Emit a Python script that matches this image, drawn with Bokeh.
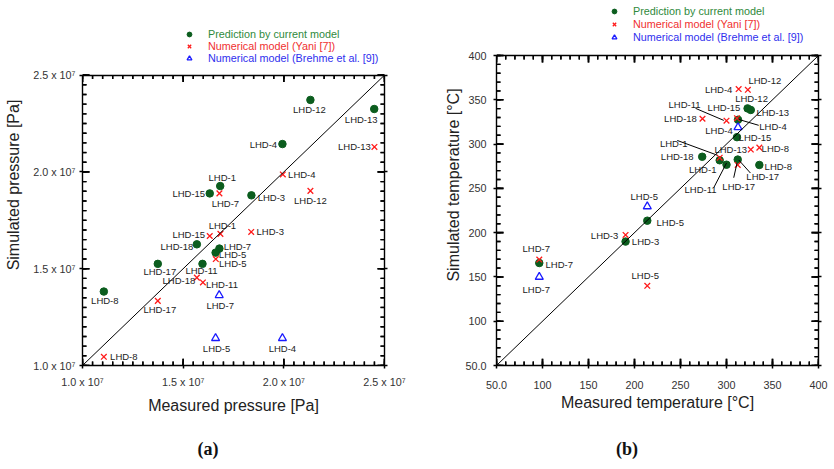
import numpy as np
from bokeh.plotting import figure
from bokeh.models import (ColumnDataSource, Range1d, FixedTicker, LinearAxis, Legend,
                          LegendItem, Slope, Div)
from bokeh.core.properties import value
from bokeh.layouts import row, column
from bokeh.embed import file_html
from bokeh.resources import INLINE

# ------------------------------------------------------------------ data (a)
pa_pred_names = ["LHD-12", "LHD-13", "LHD-4", "LHD-1", "LHD-15", "LHD-3",
                 "LHD-18", "LHD-7", "LHD-5", "LHD-17", "LHD-11", "LHD-8"]
pa_pred_meas = [2.132e7, 2.449e7, 1.993e7, 1.684e7, 1.632e7, 1.839e7,
                1.568e7, 1.680e7, 1.661e7, 1.374e7, 1.596e7, 1.106e7]
pa_pred_sim = [2.372e7, 2.325e7, 2.144e7, 1.927e7, 1.889e7, 1.879e7,
               1.626e7, 1.604e7, 1.583e7, 1.525e7, 1.525e7, 1.382e7]

pa_yani_names = ["LHD-13", "LHD-4", "LHD-7", "LHD-12", "LHD-1", "LHD-15",
                 "LHD-3", "LHD-5", "LHD-18", "LHD-11", "LHD-17", "LHD-8"]
pa_yani_meas = [2.450e7, 1.995e7, 1.680e7, 2.132e7, 1.685e7, 1.632e7,
                1.838e7, 1.662e7, 1.568e7, 1.598e7, 1.374e7, 1.106e7]
pa_yani_sim = [2.129e7, 1.987e7, 1.889e7, 1.902e7, 1.680e7, 1.669e7,
               1.690e7, 1.550e7, 1.454e7, 1.429e7, 1.334e7, 1.045e7]

pa_breh_names = ["LHD-7", "LHD-5", "LHD-4"]
pa_breh_meas = [1.679e7, 1.661e7, 1.993e7]
pa_breh_sim = [1.363e7, 1.141e7, 1.141e7]

pa_ticks = [1.0e7, 1.5e7, 2.0e7, 2.5e7]
pa_tick_labels = ["1.0 x 10\u2077", "1.5 x 10\u2077", "2.0 x 10\u2077", "2.5 x 10\u2077"]
pa_minor_step = 0.05e7

# ------------------------------------------------------------------ data (b)
tb_pred_names = ["LHD-12", "LHD-13", "LHD-4", "LHD-15", "LHD-18", "LHD-1",
                 "LHD-11", "LHD-17", "LHD-8", "LHD-5", "LHD-3", "LHD-7"]
tb_pred_meas = [322.9, 326.4, 312.5, 311.4, 273.6, 292.6,
                300.0, 312.2, 335.7, 213.9, 190.3, 96.5]
tb_pred_sim = [340.3, 338.5, 327.5, 307.8, 285.7, 281.7,
               276.7, 282.5, 276.4, 213.5, 189.9, 165.7]

tb_yani_names = ["LHD-4", "LHD-12", "LHD-18", "LHD-11", "LHD-15", "LHD-13",
                 "LHD-8", "LHD-1", "LHD-17", "LHD-3", "LHD-7", "LHD-5"]
tb_yani_meas = [313.2, 323.2, 273.9, 300.0, 311.4, 326.4,
                335.7, 292.6, 312.2, 190.3, 96.5, 213.9]
tb_yani_sim = [362.1, 361.3, 328.6, 326.4, 329.2, 293.8,
               296.0, 284.6, 276.4, 197.4, 169.6, 140.0]

tb_breh_names = ["LHD-4", "LHD-5", "LHD-7"]
tb_breh_meas = [312.5, 213.9, 96.5]
tb_breh_sim = [318.9, 229.6, 150.0]

tb_ticks = [50, 100, 150, 200, 250, 300, 350, 400]
tb_tick_labels = ["50.0", "100", "150", "200", "250", "300", "350", "400"]
tb_minor_step = 10

series_names = ["Prediction by current model", "Numerical model (Yani [7])",
                "Numerical model (Brehme et al. [9])"]

# ------------------------------------------------------------------ label placement (px)
pa_pred_dx = [-1, -13, -19, 2, -21, 20, -20, 18, 17, 2, -1, 1]
pa_pred_dy = [10, 10, 0, -9, 0, 2, 2, -2, 2, 8, 7, 9]
pa_yani_dx = [-20, 19, 6, 0, 2, -21, 19, 17, -18, 19, 2, 20]
pa_yani_dy = [0, 0, 10, 10, -8, -1, 0, 4, 3, 2, 9, 0]
pa_breh_dx = [1, 1, 0]
pa_breh_dy = [10, 10, 10]

tb_pred_dx = [4, 22, 35, 18, -25, -17, -26, 25, 19, 23, 20, 20]
tb_pred_dy = [-10, 3, 7, 0, 0, 9, 25, 17, 2, 2, 0, 1]
tb_yani_dx = [-20, 17, -22, -42, -13, -20, 16, -46, 1, -21, -3, -2]
tb_yani_dy = [0, -9, 0, -16, -11, 0, 1, -14, 22, 1, -11, -10]
tb_breh_dx = [-19, -3, -3]
tb_breh_dy = [3, -10, 13]

# leader lines: (series, index, start dx, start dy, end dx, end dy) in px
tb_leaders = [("yani", 3, -31, -12.6, -2.7, -0.3),
              ("pred", 2, 0.7, -0.3, 20.7, 5.7),
              ("yani", 7, -42.4, -17.6, -2.4, -2.6),
              ("pred", 6, -12.7, 23.3, 0, -1.7),
              ("pred", 7, 1, 0.4, 12.7, 13.7),
              ("yani", 8, -0.7, -2, -4, 13)]

GREEN, RED, BLUE = "#0b5d1e", "#ff1a1a", "#1a1aff"
GREEN_T, RED_T, BLUE_T = "#2f8a3c", "#f03030", "#2f2fee"
FONT = "Liberation Sans"

# ------------------------------------------------------------------ layout (px)
H = 435                           # figure height; caption div below it
CAP_H = 18
BORDER_TOP, BORDER_BOTTOM = 4, 70
FRAME_TOP = 5                     # measured page y of the frame top
FRAME_BOTTOM = 8 + H - BORDER_BOTTOM
A_BOX_TOP, B_BOX_TOP = 77, 57
A_FW, B_FW = 302, 322
A_ROWS = [41.7, 53.5, 66.0]      # legend row centres (page px)
B_ROWS = [19.0, 32.3, 45.0]


def clear_bg(ax):
    props = ax.properties()
    if "background_fill_alpha" in props:
        ax.background_fill_alpha = 0


def style_axes(p, ticks, labels, step):
    lo, hi = ticks[0], ticks[-1]
    n_minor = int(round((hi - lo) / step))
    minor = [lo + k * step for k in range(n_minor + 1)]
    ticker = FixedTicker(ticks=ticks, minor_ticks=minor)
    over = {t: l for t, l in zip(ticks, labels)}
    for ax in list(p.xaxis) + list(p.yaxis):
        ax.ticker = ticker
        ax.bounds = (lo, hi)
        ax.major_label_overrides = over
        ax.major_tick_in = 0
        ax.major_tick_out = 3
        ax.minor_tick_in = 0
        ax.minor_tick_out = 0
        ax.major_tick_line_color = "black"
        ax.major_tick_line_width = 1.5
        ax.axis_line_color = "black"
        ax.axis_line_width = 1.4
        ax.major_label_text_font = FONT
        ax.major_label_text_font_size = "10.8px"
        ax.major_label_text_color = "#333333"
        ax.axis_label_text_font = FONT
        ax.axis_label_text_font_size = "16px"
        ax.axis_label_text_font_style = "normal"
        ax.axis_label_text_color = "#222222"
        clear_bg(ax)
    empty = {t: "" for t in ticks}
    rax = LinearAxis(ticker=ticker, bounds=(lo, hi), major_label_overrides=empty,
                     major_label_standoff=0, major_tick_in=0, major_tick_out=3,
                     minor_tick_in=0, minor_tick_out=0, axis_line_color="black",
                     axis_line_width=1.4, major_tick_line_width=1.5)
    clear_bg(rax)
    p.add_layout(rax, "right")
    tax = LinearAxis(ticker=ticker, bounds=(lo, hi), major_label_overrides=empty,
                     fixed_location=hi, major_label_standoff=0, major_tick_in=0,
                     major_tick_out=0, minor_tick_in=0, minor_tick_out=0,
                     axis_line_color="black", axis_line_width=1.4)
    clear_bg(tax)
    p.add_layout(tax, "above")
    p.xgrid.visible = False
    p.ygrid.visible = False
    p.outline_line_color = None
    p.add_layout(Slope(gradient=1, y_intercept=0, line_color="black", line_width=1))
    return minor


def add_ticks(p, ticks, minor, fw, box_top):
    # inward tick marks on all four sides, drawn from the tick lists
    lo, hi = ticks[0], ticks[-1]
    span = hi - lo
    ux = span / fw                         # data units per px (x)
    uy = span / (FRAME_BOTTOM - box_top)   # data units per px (y)
    for vals, ln, lw in ((ticks, 7, 1.6), (minor, 4, 1.4)):
        xs0, ys0, xs1, ys1 = [], [], [], []
        cx, cy, rw, rh = [], [], [], []
        for t in vals:
            xs0 += [t, t, lo, hi]
            ys0 += [lo, hi, t, t]
            xs1 += [t, t, lo + ln * ux, hi - ln * ux]
            ys1 += [lo + ln * uy, hi - ln * uy, t, t]
            cx += [t, t, lo + ln * ux / 2, hi - ln * ux / 2]
            cy += [lo + ln * uy / 2, hi - ln * uy / 2, t, t]
            rw += [lw * ux, lw * ux, ln * ux, ln * ux]
            rh += [ln * uy, ln * uy, lw * uy, lw * uy]
        p.segment(x0=xs0, y0=ys0, x1=xs1, y1=ys1, line_color="black", line_width=lw)
        p.rect(x=cx, y=cy, width=rw, height=rh, fill_color="black", line_color=None)


def add_points(p, meas, sim, names, dx, dy):
    srcs = [ColumnDataSource(dict(x=meas[k], y=sim[k], t=names[k], dx=dx[k], dy=dy[k]))
            for k in range(3)]
    rg = p.scatter("x", "y", source=srcs[0], marker="circle", size=7.5,
                   fill_color=GREEN, line_color=GREEN)
    rr = p.scatter("x", "y", source=srcs[1], marker="x", size=8,
                   line_color=RED, line_width=1.3)
    rb = p.scatter("x", "y", source=srcs[2], marker="triangle", size=8,
                   fill_color="white", line_color=BLUE, line_width=1.3)
    for s in srcs:
        p.text("x", "y", text="t", x_offset="dx", y_offset="dy", source=s,
               text_align="center", text_baseline="middle",
               text_font=value(FONT), text_font_size=value("9.5px"),
               text_color="#222222")
    return rg, rr, rb


def add_legends(p, renderers, x, rows):
    for r, lab, col, c in zip(renderers, series_names, (GREEN_T, RED_T, BLUE_T), rows):
        y = FRAME_BOTTOM - (c + 6)
        leg = Legend(items=[LegendItem(label=lab, renderers=[r])], location=(x, y),
                     padding=0, margin=0, spacing=0, glyph_width=16, glyph_height=12,
                     label_height=12, label_standoff=11, label_text_font=FONT,
                     label_text_font_size="10.8px", label_text_color=col,
                     border_line_color=None, background_fill_alpha=0)
        p.add_layout(leg)


def y_end(lo, hi, box_top):
    return hi + (box_top - FRAME_TOP) * (hi - lo) / (FRAME_BOTTOM - box_top)


def caption(text, w):
    return Div(text=('<div style="width:%dpx;text-align:center;font-family:\'Liberation Serif\';'
                     'font-weight:bold;font-size:18px;line-height:%dpx;color:#111111">%s</div>'
                     % (w, CAP_H, text)), width=w, height=CAP_H)


# ------------------------------------------------------------------ figure (a)
pa = figure(width=406, height=H, x_range=Range1d(pa_ticks[0], pa_ticks[-1]),
            y_range=Range1d(pa_ticks[0], y_end(pa_ticks[0], pa_ticks[-1], A_BOX_TOP)),
            output_backend="svg", toolbar_location=None, title_location=None,
            min_border_left=82, min_border_right=22,
            min_border_top=BORDER_TOP, min_border_bottom=BORDER_BOTTOM,
            x_axis_label="Measured pressure [Pa]", y_axis_label="Simulated pressure [Pa]")
pa.xaxis[0].major_label_standoff = 7
pa.yaxis[0].major_label_standoff = 4
pa.xaxis[0].axis_label_standoff = 6
pa.yaxis[0].axis_label_standoff = 8
minor_a = style_axes(pa, pa_ticks, pa_tick_labels, pa_minor_step)
ra = add_points(pa, (pa_pred_meas, pa_yani_meas, pa_breh_meas),
                (pa_pred_sim, pa_yani_sim, pa_breh_sim),
                (pa_pred_names, pa_yani_names, pa_breh_names),
                (pa_pred_dx, pa_yani_dx, pa_breh_dx), (pa_pred_dy, pa_yani_dy, pa_breh_dy))
add_legends(pa, ra, 99, A_ROWS)
add_ticks(pa, pa_ticks, minor_a, A_FW, A_BOX_TOP)

# ------------------------------------------------------------------ figure (b)
pb = figure(width=412, height=H, x_range=Range1d(tb_ticks[0], tb_ticks[-1]),
            y_range=Range1d(tb_ticks[0], y_end(tb_ticks[0], tb_ticks[-1], B_BOX_TOP)),
            output_backend="svg", toolbar_location=None, title_location=None,
            min_border_left=80, min_border_right=10,
            min_border_top=BORDER_TOP, min_border_bottom=BORDER_BOTTOM,
            x_axis_label="Measured temperature [\u00b0C]",
            y_axis_label="Simulated temperature [\u00b0C]")
pb.xaxis[0].major_label_standoff = 12
pb.yaxis[0].major_label_standoff = 7
pb.xaxis[0].axis_label_standoff = 2
pb.yaxis[0].axis_label_standoff = 0
minor_b = style_axes(pb, tb_ticks, tb_tick_labels, tb_minor_step)
rb = add_points(pb, (tb_pred_meas, tb_yani_meas, tb_breh_meas),
                (tb_pred_sim, tb_yani_sim, tb_breh_sim),
                (tb_pred_names, tb_yani_names, tb_breh_names),
                (tb_pred_dx, tb_yani_dx, tb_breh_dx), (tb_pred_dy, tb_yani_dy, tb_breh_dy))
add_legends(pb, rb, 110, B_ROWS)

# leader lines (px offsets converted to data units)
span = tb_ticks[-1] - tb_ticks[0]
sx = B_FW / span
sy = (FRAME_BOTTOM - B_BOX_TOP) / span
lookup = {"pred": (tb_pred_meas, tb_pred_sim), "yani": (tb_yani_meas, tb_yani_sim)}
x0, y0, x1, y1 = [], [], [], []
for ser, i, a, b, c, d in tb_leaders:
    mx, my = lookup[ser][0][i], lookup[ser][1][i]
    x0.append(mx + a / sx); y0.append(my - b / sy)
    x1.append(mx + c / sx); y1.append(my - d / sy)
pb.segment(x0=x0, y0=y0, x1=x1, y1=y1, line_color="black", line_width=1)
add_ticks(pb, tb_ticks, minor_b, B_FW, B_BOX_TOP)

layout = row(column(pa, caption("(a)", 406)), column(pb, caption("(b)", 412)))
open("out.html", "w").write(file_html(layout, INLINE))
